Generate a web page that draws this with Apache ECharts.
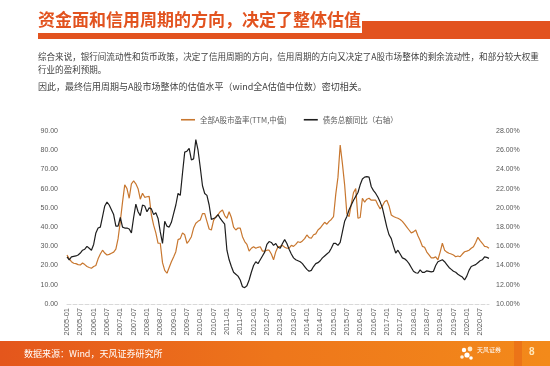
<!DOCTYPE html>
<html>
<head>
<meta charset="utf-8">
<script src="https://cdn.jsdelivr.net/npm/echarts@6/dist/echarts.min.js"></script>
<style>
html,body{margin:0;padding:0;background:#fff;}
#c{width:550px;height:366px;}
</style>
</head>
<body>
<div id="c"></div>
<script>
// ---- data ----
const startYear = 2005;
const monthCount = 191; // 2005-01 .. 2020-11
const categories = [];
for (let i = 0; i < monthCount; i++) {
  const y = startYear + Math.floor(i / 12);
  const m = (i % 12) + 1;
  categories.push(y + '-' + (m < 10 ? '0' + m : m));
}

// 全部A股市盈率(TTM,中值) - left axis
const peMedian = [
  25.5,23.5,22,21.2,21,20.5,20.3,21.3,20.5,19.5,19,18.6,
  19.5,20,23.5,26,28,26.5,25.5,25.8,26.4,27,28.5,34,
  43,53,62,60,55,62.5,64,62.5,60,54.5,57.6,55.5,
  55.8,56,46.3,41,37,31.6,31.6,21.5,17.5,16,19,22,
  24.5,27.2,33.5,34,37,36,31.6,33,35,39.5,42,43,
  43.7,47,47,43,39,38.5,43.5,45.4,46.5,48,48.9,46,
  44.6,48,45,40,38.5,39.5,39.5,35,32.5,31,27.5,29,
  29.8,29,29.5,29.8,27.5,27.5,28,28,26,23,27.2,29.8,
  30,30.5,29.5,29,29,30.5,30,31,32.4,32,32.8,34,
  35.9,34.5,34.2,36,36.5,38.5,39.5,41,42.5,41.5,43,44,
  45.4,57,66,82.7,73,62,47,45.4,52,58,60,44.6,
  45,55,53,54.5,55,54,54,54,51.5,49.5,51,53.2,
  54,51,46.3,45.5,45,44.6,44,43,41.5,40,38.5,37,
  37.5,38.5,35.5,33,30,29.5,27,25.5,24,24,24.5,23,
  27,31.6,28,27,26.4,26,25.5,24.6,25,24.6,26,27.2,
  27.5,28,29,29.8,32,34.7,33,31.6,30,29.8,29
];

// 债务总额同比（右轴）, % - right axis
const debtYoY = [
  14.9,14.6,14.9,14.95,15,15.1,15.3,15.6,15.7,16,15.8,15.6,
  16.2,17.4,17.9,18,19.1,20.2,20.6,20.3,19.8,19.3,18.1,18.1,
  19,18,17.9,17.9,17.8,17.4,19,20.4,19.6,19.2,20.3,20.2,
  19.6,20,19.9,19.3,19.5,18.9,17.5,16.3,18.6,18.1,18,18.5,
  19.4,20.3,21.5,21.3,23.6,25.8,25.9,26.2,25,25.1,27.1,26,
  24.2,22.3,21.5,21.3,20.3,18.8,18.9,19,19.3,18.9,18.6,18.3,
  15.6,14.6,13.9,13.3,13.1,12.9,12.5,11.8,11.7,11.9,12.5,13.3,
  14,14.4,14.2,14.6,15,15.4,16.2,16.5,16.4,16.1,16.3,15.9,
  15.8,16.3,16.7,16.3,15.7,15.2,14.8,14.6,14.5,14.4,14.2,13.9,
  13.6,13.4,13.5,13.9,14.2,14.3,14.5,14.8,15,15.2,15.4,15.8,
  16.3,16.3,16.1,16.4,17.5,18.6,19.1,19.8,20.3,20.8,21.2,21.6,
  22.4,23,23.2,23.25,23.2,22.2,21.8,21.5,21.1,20.6,20,19,
  18,17.2,16.8,16,15.3,15.6,15.2,14.8,14.7,14.5,14.2,13.8,
  13.4,13.25,13.2,13.55,13.3,13.3,13.45,13.4,13.35,13.4,14,14.4,
  14.5,14.6,14.4,14.1,13.8,13.6,13.4,13.3,13.1,12.95,12.8,12.5,
  12.9,13.5,13.9,14,14.1,14.3,14.5,14.6,14.9,14.85,14.75
];

const seriesNames = ['全部A股市盈率(TTM,中值)', '债务总额同比（右轴）'];
const leftTicks = { min: 0, max: 90, interval: 10 };
const rightTicks = { min: 10, max: 28, interval: 2 };

const titleText = '资金面和信用周期的方向，决定了整体估值';
const bodyLine1 = '综合来说，银行间流动性和货币政策，决定了信用周期的方向，信用周期的方向又决定了A股市场整体的剩余流动性，和部分较大权重';
const bodyLine2 = '行业的盈利预期。';
const bodyLine3 = '因此，最终信用周期与A股市场整体的估值水平（wind全A估值中位数）密切相关。';
const sourceText = '数据来源：Wind，天风证券研究所';
const logoText = '天风证券';
const pageNo = '8';

// ---- chart ----
const FONT = '"Noto Sans CJK SC", "Liberation Sans", sans-serif';
const ORANGE = '#C8772F';
const BLACK = '#1E1E1E';
const chart = echarts.init(document.getElementById('c'), null, { renderer: 'canvas' });

chart.setOption({
  animation: false,
  backgroundColor: '#ffffff',
  textStyle: { fontFamily: FONT },
  grid: { left: 67, right: 61, top: 131, bottom: 62, containLabel: false },
  legend: {
    left: 176, top: 111,
    itemWidth: 14, itemHeight: 1.6, itemGap: 17,
    icon: 'rect',
    textStyle: { fontSize: 7.5, color: '#595959', fontFamily: FONT },
    data: [
      { name: seriesNames[0], icon: 'rect', itemStyle: { color: ORANGE } },
      { name: seriesNames[1], icon: 'rect', itemStyle: { color: BLACK } }
    ]
  },
  xAxis: {
    type: 'category',
    data: categories,
    boundaryGap: false,
    axisLine: { show: true, lineStyle: { color: '#D9D9D9', type: 'dashed', width: 1 } },
    axisTick: { show: false },
    axisLabel: { interval: 5, rotate: 90, fontSize: 7.5, color: '#595959', margin: 4, fontFamily: '"Liberation Sans", sans-serif' },
    splitLine: { show: false }
  },
  yAxis: [
    {
      type: 'value', min: leftTicks.min, max: leftTicks.max, interval: leftTicks.interval,
      axisLine: { show: false }, axisTick: { show: false }, splitLine: { show: false },
      axisLabel: { formatter: v => v.toFixed(2), fontSize: 7, color: '#595959', margin: 9, fontFamily: '"Liberation Sans", sans-serif' }
    },
    {
      type: 'value', min: rightTicks.min, max: rightTicks.max, interval: rightTicks.interval,
      axisLine: { show: false }, axisTick: { show: false }, splitLine: { show: false },
      axisLabel: { formatter: v => v.toFixed(2) + '%', fontSize: 7, color: '#595959', margin: 7, fontFamily: '"Liberation Sans", sans-serif' }
    }
  ],
  series: [
    {
      name: seriesNames[0], type: 'line', yAxisIndex: 0, data: peMedian,
      showSymbol: false, symbol: 'none',
      lineStyle: { color: ORANGE, width: 1.2 }, itemStyle: { color: ORANGE }
    },
    {
      name: seriesNames[1], type: 'line', yAxisIndex: 1, data: debtYoY,
      showSymbol: false, symbol: 'none',
      lineStyle: { color: BLACK, width: 1.2 }, itemStyle: { color: BLACK }
    }
  ],
  graphic: [
    // title band
    { type: 'rect', shape: { x: 362, y: 21, width: 188, height: 18 }, style: { fill: '#E2531F' }, silent: true },
    { type: 'rect', shape: { x: 38, y: 33, width: 330, height: 6 }, style: { fill: '#E2531F' }, silent: true },
    { type: 'text', left: 38, top: 11, style: { text: titleText, fill: '#E2531F', font: 'bold 17px "Noto Sans CJK SC", sans-serif' }, silent: true },
    // body text
    { type: 'text', left: 38, top: 52, style: { text: bodyLine1, fill: '#404040', font: '8.55px "Noto Sans CJK SC", sans-serif' }, silent: true },
    { type: 'text', left: 38, top: 65, style: { text: bodyLine2, fill: '#404040', font: '8.55px "Noto Sans CJK SC", sans-serif' }, silent: true },
    { type: 'text', left: 38, top: 82, style: { text: bodyLine3, fill: '#404040', font: '9px "Noto Sans CJK SC", sans-serif' }, silent: true },
    // footer
    {
      type: 'rect', shape: { x: 0, y: 341, width: 550, height: 25 }, silent: true,
      style: {
        fill: new echarts.graphic.LinearGradient(0, 0, 1, 0, [
          { offset: 0, color: '#E4561C' },
          { offset: 0.5, color: '#EE761B' },
          { offset: 1, color: '#F38A1A' }
        ])
      }
    },
    { type: 'rect', shape: { x: 514, y: 341, width: 8, height: 25 }, style: { fill: '#EC7418' }, silent: true },
    { type: 'text', left: 24, top: 349, style: { text: sourceText, fill: '#FFFFFF', font: '9px "Noto Sans CJK SC", sans-serif' }, silent: true },
    // logo flower
    { type: 'circle', shape: { cx: 464, cy: 350, r: 2.2 }, style: { fill: '#FFFFFF' }, silent: true },
    { type: 'circle', shape: { cx: 470, cy: 349, r: 2.4 }, style: { fill: '#FFE9C8' }, silent: true },
    { type: 'circle', shape: { cx: 467, cy: 355, r: 2.6 }, style: { fill: '#FFFFFF' }, silent: true },
    { type: 'circle', shape: { cx: 462, cy: 357, r: 1.8 }, style: { fill: '#FFF2DE' }, silent: true },
    { type: 'circle', shape: { cx: 471, cy: 358, r: 1.8 }, style: { fill: '#FFFFFF' }, silent: true },
    { type: 'text', left: 477, top: 347, style: { text: logoText, fill: '#FFFFFF', font: '6px "Noto Sans CJK SC", sans-serif' }, silent: true },
    { type: 'text', left: 529, top: 347, style: { text: pageNo, fill: '#FFE7B8', font: 'bold 10px "Liberation Sans", sans-serif' }, silent: true }
  ]
});
</script>
</body>
</html>
